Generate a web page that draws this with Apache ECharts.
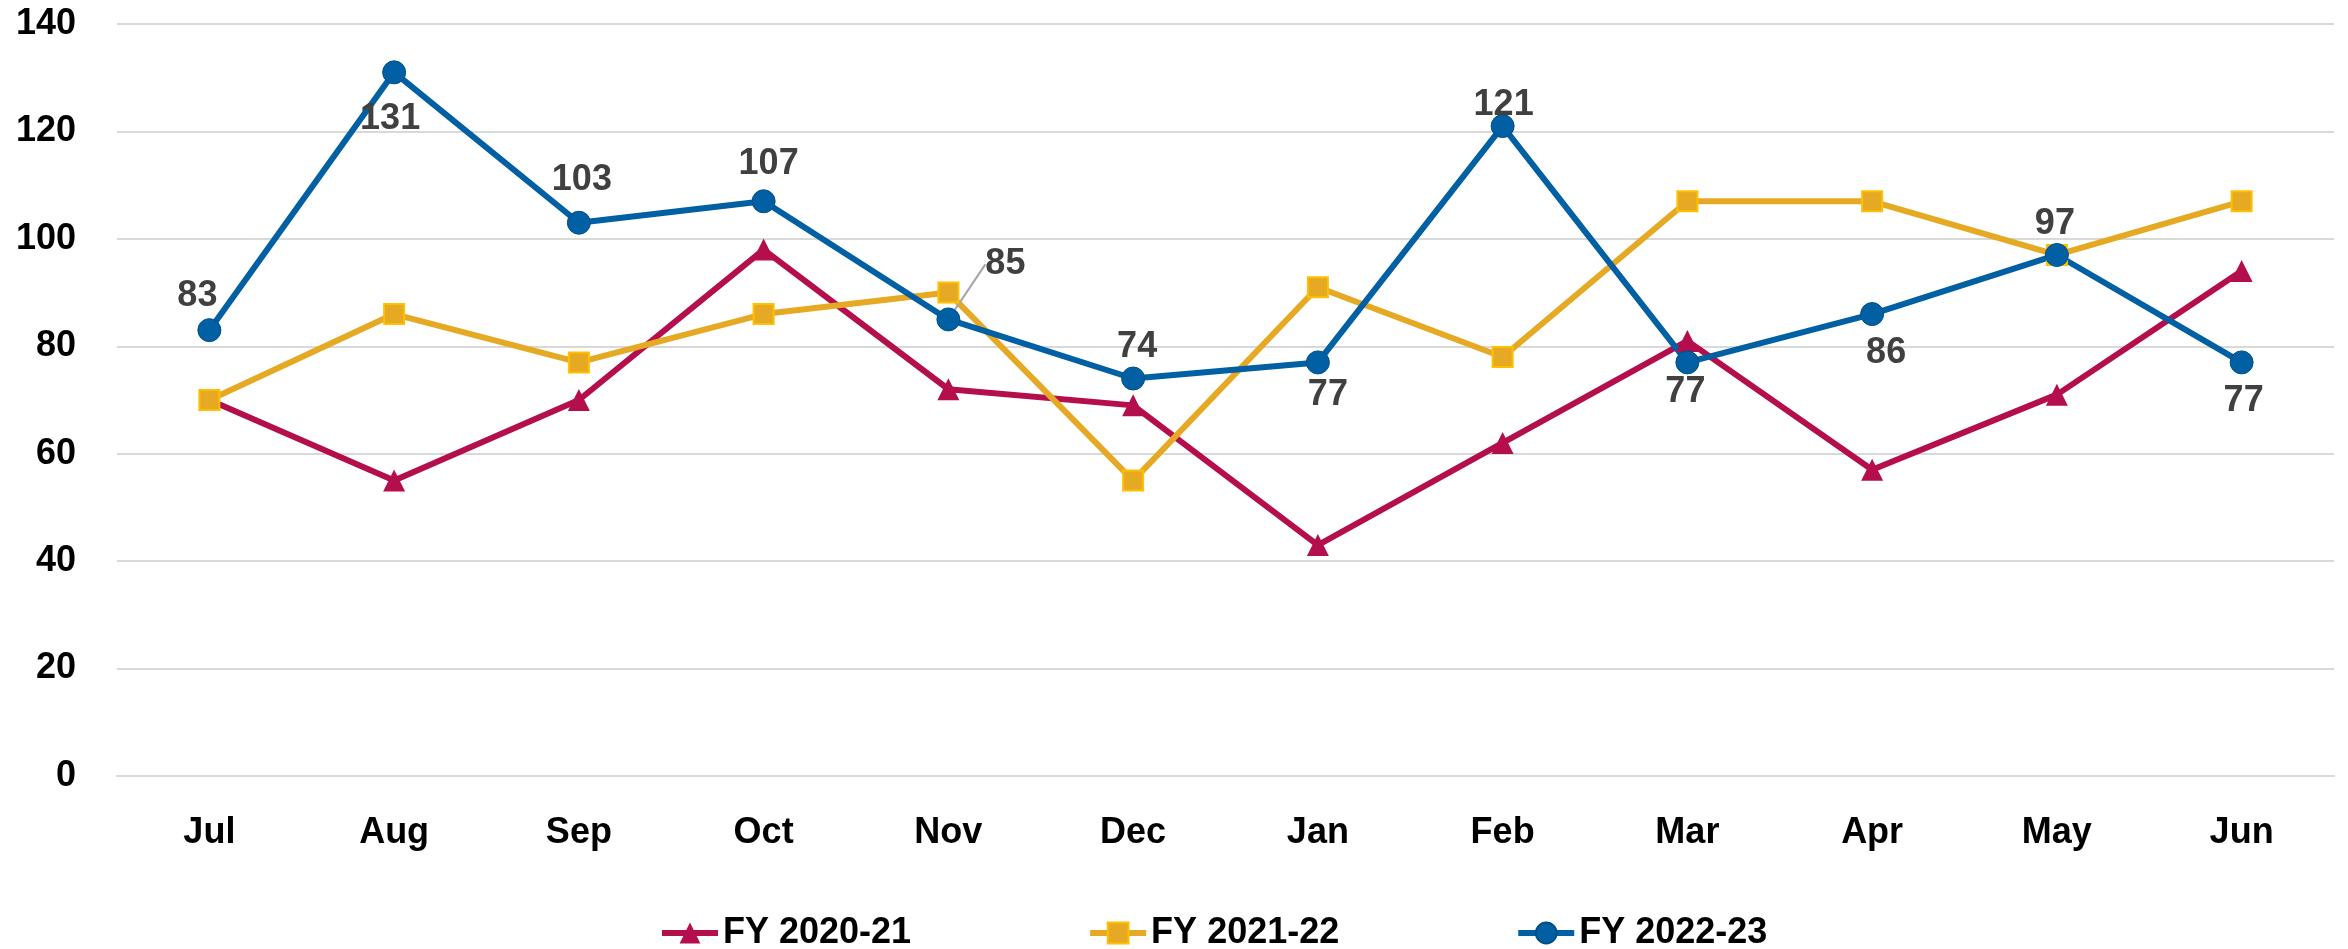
<!DOCTYPE html>
<html>
<head>
<meta charset="utf-8">
<script src="https://cdn.jsdelivr.net/npm/echarts@6/dist/echarts.min.js"></script>
<style>
  html, body { margin: 0; padding: 0; background: #fff; }
  #chart { width: 2348px; height: 949px; }
</style>
</head>
<body>
<div id="chart"></div>
<script>
// data
const months = ['Jul', 'Aug', 'Sep', 'Oct', 'Nov', 'Dec', 'Jan', 'Feb', 'Mar', 'Apr', 'May', 'Jun'];
const fy2021 = [70, 55, 70, 98, 72, 69, 43, 62, 81, 57, 71, 94];
const fy2122 = [70, 86, 77, 86, 90, 55, 91, 78, 107, 107, 97, 107];
const fy2223 = [83, 131, 103, 107, 85, 74, 77, 121, 77, 86, 97, 77];
const seriesNames = ['FY 2020-21', 'FY 2021-22', 'FY 2022-23'];

// where each FY 2022-23 label sits relative to its point (side + nudge in px)
const labelSide = ['top', 'bottom', 'top', 'top', 'top', 'top', 'bottom', 'top', 'bottom', 'bottom', 'top', 'bottom'];
const labelNudge = [[-12, 1], [-4, 12], [3, -8], [5, -2], [57, -20], [4, 4], [10, -2], [1, 14], [-2, -5], [14, 4], [-2, 4], [2, 4]];

const FONT = "'Liberation Sans', Arial, sans-serif";

const chart = echarts.init(document.getElementById('chart'));

const blueData = fy2223.map((v, i) => ({
  value: v,
  label: { position: labelSide[i] },
  labelLine: i === 4 ? { show: true, lineStyle: { color: '#A6A6A6', width: 2 } } : { show: false }
}));

const option = {
  backgroundColor: '#fff',
  animation: false,
  grid: { left: 117, right: 14, top: 24, bottom: 173, containLabel: false },
  legend: {
    data: seriesNames,
    left: 654,
    top: 910,
    itemWidth: 56,
    itemHeight: 26,
    itemGap: 176,
    lineStyle: { width: 6 },
    textStyle: { fontFamily: FONT, fontSize: 36, fontWeight: 'bold', color: '#000' }
  },
  xAxis: {
    type: 'category',
    data: months,
    boundaryGap: true,
    axisLine: { lineStyle: { color: '#D9D9D9', width: 2 } },
    axisTick: { show: false },
    axisLabel: { fontFamily: FONT, fontSize: 36, fontWeight: 'bold', color: '#000', margin: 39 }
  },
  yAxis: {
    type: 'value',
    min: 0,
    max: 140,
    interval: 20,
    axisLine: { show: false },
    axisTick: { show: false },
    splitLine: { lineStyle: { color: '#D9D9D9', width: 2 } },
    axisLabel: { fontFamily: FONT, fontSize: 36, fontWeight: 'bold', color: '#000', margin: 41 }
  },
  series: [
    {
      name: seriesNames[0],
      type: 'line',
      data: fy2021,
      symbol: 'triangle',
      symbolSize: 22,
      lineStyle: { color: '#B50E4C', width: 6 },
      itemStyle: { color: '#B50E4C' }
    },
    {
      name: seriesNames[1],
      type: 'line',
      data: fy2122,
      symbol: 'rect',
      symbolSize: 20,
      lineStyle: { color: '#E6A923', width: 6 },
      itemStyle: { color: '#E6A923', borderColor: '#FFC000', borderWidth: 2 }
    },
    {
      name: seriesNames[2],
      type: 'line',
      data: blueData,
      symbol: 'circle',
      symbolSize: 23,
      lineStyle: { color: '#0060A3', width: 6 },
      itemStyle: { color: '#0060A3', borderColor: '#004F88', borderWidth: 1 },
      label: {
        show: true,
        fontFamily: FONT,
        fontSize: 36,
        fontWeight: 'bold',
        color: '#404040'
      },
      labelLayout: function (params) {
        const n = labelNudge[params.dataIndex];
        return { dx: n[0], dy: n[1] };
      }
    }
  ]
};

chart.setOption(option);
</script>
</body>
</html>
